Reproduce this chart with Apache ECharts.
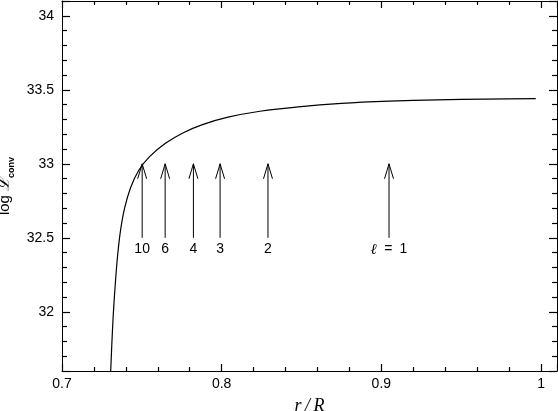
<!DOCTYPE html>
<html>
<head>
<meta charset="utf-8">
<script src="https://cdn.jsdelivr.net/npm/echarts@6/dist/echarts.min.js"></script>
<style>
  html, body { margin: 0; padding: 0; background: #fff; }
  #chart { width: 558px; height: 411px; }
</style>
</head>
<body>
<div id="chart"></div>
<script>
// r/R 与 log L_conv 曲线
var rValues = [0.7305, 0.7312, 0.7320, 0.7330, 0.7344, 0.7364, 0.7392, 0.7430, 0.7480, 0.7550,
               0.7650, 0.7760, 0.7880, 0.8040, 0.8240, 0.8480, 0.8750, 0.9050, 0.9350, 0.9650, 0.9967];
var logLValues = [31.60, 31.78, 31.96, 32.13, 32.33, 32.53, 32.70, 32.84, 32.955, 33.05,
                  33.14, 33.21, 33.265, 33.315, 33.355, 33.385, 33.408, 33.423, 33.432, 33.437, 33.44];

// 箭头位置和标签
var arrowR = [0.7502, 0.7646, 0.7823, 0.7990, 0.8290, 0.9048];
var arrowLabels = ['10', '6', '4', '3', '2', '{l|ℓ}\u2002=\u20021'];
var arrowBase = 32.5;
var arrowTip = 33.0;
var arrowLabelY = 32.42;

var xMin = 0.7, xMax = 1.01;
var yMin = 31.6, yMax = 34.1;

var curve = rValues.map(function (r, i) { return [r, logLValues[i]]; });
var arrows = arrowR.map(function (r, i) { return [r, i]; });

var labelFont = { color: '#000', fontSize: 14, fontFamily: 'Liberation Sans' };

// 刻度朝内: 用负长度
var makeX = function (pos, showLabel) {
    return {
        type: 'value',
        position: pos,
        min: xMin,
        max: xMax,
        splitNumber: 3,
        axisLine: { show: true, onZero: false, lineStyle: { color: '#000', width: 1 } },
        axisTick: { show: true, inside: false, length: -7, lineStyle: { color: '#000', width: 1.2 } },
        minorTick: { show: true, splitNumber: 5, length: -4, lineStyle: { color: '#000', width: 1.2 } },
        splitLine: { show: false },
        axisLabel: {
            show: showLabel,
            margin: 6,
            showMaxLabel: false,
            color: labelFont.color,
            fontSize: labelFont.fontSize,
            fontFamily: labelFont.fontFamily
        }
    };
};

var makeY = function (pos, showLabel) {
    return {
        type: 'value',
        position: pos,
        min: yMin,
        max: yMax,
        splitNumber: 5,
        axisLine: { show: true, onZero: false, lineStyle: { color: '#000', width: 1 } },
        axisTick: { show: true, inside: false, length: -8, lineStyle: { color: '#000', width: 1.2 } },
        minorTick: { show: true, splitNumber: 5, length: -5, lineStyle: { color: '#000', width: 1.2 } },
        splitLine: { show: false },
        axisLabel: {
            show: showLabel,
            margin: 8,
            showMinLabel: false,
            showMaxLabel: false,
            color: labelFont.color,
            fontSize: labelFont.fontSize,
            fontFamily: labelFont.fontFamily
        }
    };
};

var xBottom = makeX('bottom', true);
xBottom.name = 'r\u2009/\u2009R';
xBottom.nameLocation = 'middle';
xBottom.nameGap = 26;
xBottom.nameTextStyle = { color: '#000', fontSize: 18, fontStyle: 'italic', fontFamily: 'Liberation Serif' };

var yLeft = makeY('left', true);
yLeft.name = '{a|log }{b|ℒ}{c|conv}';
yLeft.nameLocation = 'middle';
yLeft.nameGap = 37;
yLeft.nameTextStyle = {
    rich: {
        a: { color: '#000', fontSize: 15, fontFamily: 'Liberation Sans', lineHeight: 22, verticalAlign: 'middle' },
        b: { color: '#000', fontSize: 16, fontStyle: 'italic', fontFamily: 'DejaVu Serif', lineHeight: 22, verticalAlign: 'middle' },
        c: { color: '#000', fontSize: 9, fontWeight: 'bold', fontFamily: 'Liberation Sans', lineHeight: 22, verticalAlign: 'bottom' }
    }
};

var renderArrow = function (params, api) {
    var r = api.value(0);
    var idx = api.value(1);
    var p0 = api.coord([r, arrowBase]);
    var p1 = api.coord([r, arrowTip]);
    var pl = api.coord([r, arrowLabelY]);
    return {
        type: 'group',
        children: [
            {
                type: 'line',
                shape: { x1: p0[0], y1: p0[1], x2: p1[0], y2: p1[1] },
                style: { stroke: '#000', lineWidth: 1 }
            },
            {
                type: 'polyline',
                shape: { points: [[p1[0] - 4.5, p1[1] + 15], [p1[0], p1[1]], [p1[0] + 4.5, p1[1] + 15]] },
                style: { stroke: '#000', fill: null, lineWidth: 1 }
            },
            {
                type: 'text',
                style: {
                    text: arrowLabels[idx],
                    x: pl[0],
                    y: pl[1],
                    align: 'center',
                    verticalAlign: 'middle',
                    fill: '#000',
                    fontSize: 14,
                    fontFamily: 'Liberation Sans',
                    rich: {
                        l: { fill: '#000', fontSize: 15, fontStyle: 'italic', fontWeight: 'bold', fontFamily: 'DejaVu Serif' }
                    }
                }
            }
        ]
    };
};

var option = {
    animation: false,
    backgroundColor: '#fff',
    grid: { left: 62, right: 1, top: 1, bottom: 40, containLabel: false, outerBoundsMode: 'none' },
    xAxis: [xBottom, makeX('top', false)],
    yAxis: [yLeft, makeY('right', false)],
    series: [
        {
            type: 'line',
            data: curve,
            xAxisIndex: 0,
            yAxisIndex: 0,
            showSymbol: false,
            smooth: 0.3,
            lineStyle: { color: '#000', width: 1.2 },
            silent: true
        },
        {
            type: 'custom',
            data: arrows,
            xAxisIndex: 0,
            yAxisIndex: 0,
            renderItem: renderArrow,
            silent: true
        }
    ]
};

var chart = echarts.init(document.getElementById('chart'));
chart.setOption(option);
</script>
</body>
</html>
